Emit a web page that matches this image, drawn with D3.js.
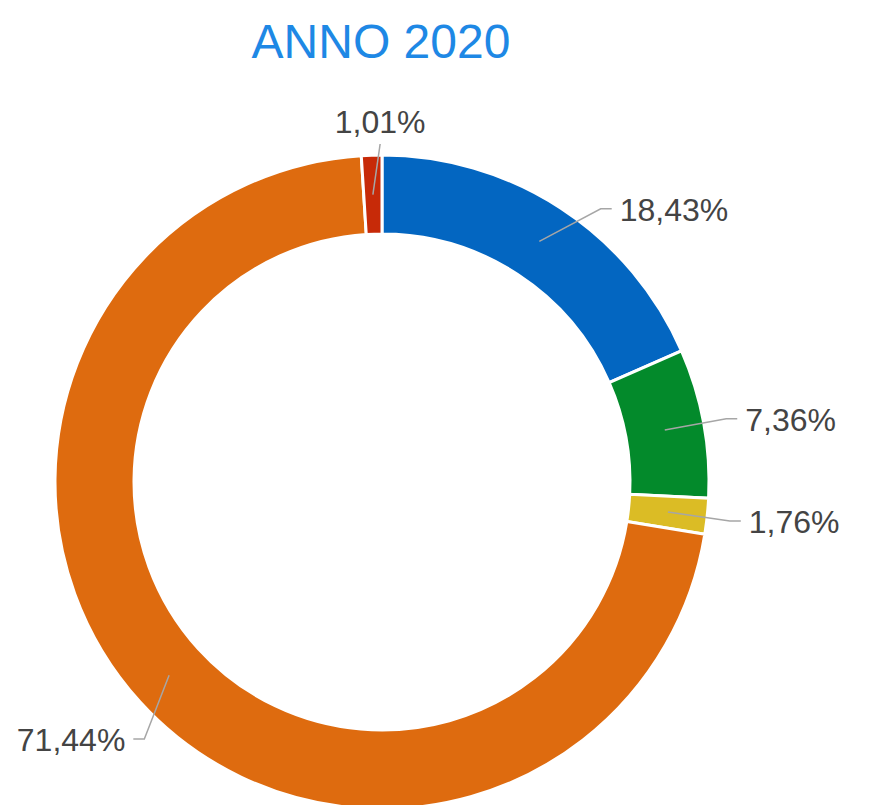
<!DOCTYPE html>
<html>
<head>
    <script src="https://cdn.jsdelivr.net/npm/d3@7"></script>
</head>

<style>
    body { margin: 0; background: #fff; }
    .label {
        font-family: "Liberation Sans", Arial, sans-serif;
        font-size: 32px;
        fill: #444;
    }
    .leader {
        fill: none;
        stroke: #a6a6a6;
        stroke-width: 1.5px;
    }
</style>

<body>
<div id="chart"></div>

<script>

    var categories = ['A', 'B', 'C', 'D', 'E'];
    var values = [18.43, 7.36, 1.76, 71.44, 1.01];
    var labels = ['18,43%', '7,36%', '1,76%', '71,44%', '1,01%'];
    var colors = ['#0366c1', '#038a2b', '#dbbc25', '#de6b0f', '#c72a08'];

    var width = 875;
    var height = 805;
    var cx = 382, cy = 482;
    var outerR = 327, innerR = 248;
    var elbowR = 350;

    // small angle nudges (degrees) so labels sit where the original puts them
    var nudge = { A: 5.5, B: 0, C: 0.4, D: -5, E: 1.5 };

    var svg = d3.select('#chart').append('svg')
        .attr('width', width)
        .attr('height', height);

    svg.append('text')
        .attr('x', 381)
        .attr('y', 58)
        .attr('text-anchor', 'middle')
        .style('font-family', '"Liberation Sans", Arial, sans-serif')
        .style('font-size', '48px')
        .style('fill', '#1e88e5')
        .text('ANNO 2020');

    var pie = d3.pie().sort(null).value(function(d) { return d; });
    var arcs = pie(values);

    var arc = d3.arc().innerRadius(innerR).outerRadius(outerR);

    var g = svg.append('g')
        .attr('transform', 'translate(' + cx + ',' + cy + ')');

    g.selectAll('path.slice')
        .data(arcs)
        .enter()
        .append('path')
        .attr('class', 'slice')
        .attr('d', arc)
        .attr('fill', function(d, i) { return colors[i]; })
        .attr('stroke', '#fff')
        .attr('stroke-width', 3);

    function polar(r, a) {
        return [r * Math.sin(a), -r * Math.cos(a)];
    }

    arcs.forEach(function(d, i) {
        var mid = (d.startAngle + d.endAngle) / 2;
        var start = polar((innerR + outerR) / 2, mid);
        var a = mid + nudge[categories[i]] * Math.PI / 180;
        var s = Math.sin(a);
        var pts, tx, ty, anchor;

        if (Math.abs(s) < 0.1) {
            // label straight above the ring
            var e = polar(elbowR - 12, a);
            pts = [start, e];
            tx = e[0]; ty = e[1] - 11; anchor = 'middle';
        } else {
            var elbow = polar(elbowR, a);
            var dir = s > 0 ? 1 : -1;
            var end = [elbow[0] + dir * 11, elbow[1]];
            pts = [start, elbow, end];
            tx = end[0] + dir * 8; ty = end[1] + 12;
            anchor = dir > 0 ? 'start' : 'end';
        }

        g.append('path')
            .attr('class', 'leader')
            .attr('d', d3.line()(pts));

        g.append('text')
            .attr('class', 'label')
            .attr('x', tx)
            .attr('y', ty)
            .attr('text-anchor', anchor)
            .text(labels[i]);
    });

</script>
</body>
</html>
